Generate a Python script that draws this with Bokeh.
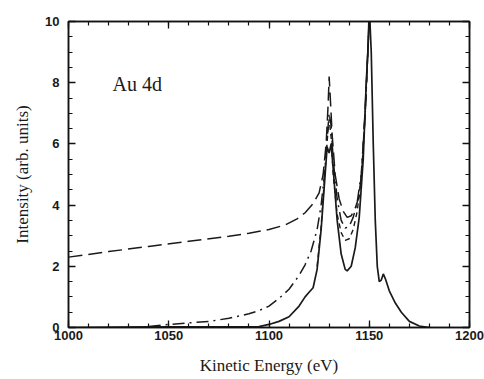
from bokeh.plotting import figure
from bokeh.models import LinearAxis, Range1d, Label, FixedTicker
from bokeh.embed import file_html
from bokeh.resources import INLINE

# Solid curve
x_solid = [1000, 1040, 1080, 1095, 1100, 1105, 1110, 1115, 1118, 1120, 1122, 1124, 1126, 1128, 1129,
           1130, 1131, 1132, 1134, 1136, 1138, 1139, 1141, 1143, 1145, 1147, 1148.5, 1149.5, 1150,
           1151, 1152, 1153, 1154, 1155, 1156, 1157, 1158, 1160, 1163, 1166, 1170, 1175, 1180]
y_solid = [0.0, 0.02, 0.02, 0.03, 0.1, 0.2, 0.35, 0.7, 1.0, 1.15, 1.3, 1.9, 3.2, 5.0, 5.9,
           5.7, 6.0, 5.2, 3.5, 2.4, 1.9, 1.85, 2.0, 2.6, 3.6, 5.5, 8.0, 9.3, 10.5,
           9.0, 6.0, 3.5, 2.0, 1.5, 1.55, 1.75, 1.6, 1.2, 0.8, 0.5, 0.2, 0.05, 0.0]

# Long-dash curve
x_dash = [1000, 1020, 1040, 1060, 1080, 1090, 1100, 1108, 1114, 1118, 1122, 1125, 1127, 1128.5,
          1129.5, 1130, 1130.5, 1131.5, 1133, 1135, 1137, 1139, 1141, 1143, 1145, 1146.5, 1148,
          1149.3, 1150]
y_dash = [2.3, 2.48, 2.65, 2.82, 2.98, 3.08, 3.2, 3.35, 3.55, 3.75, 4.05, 4.4, 5.0, 6.0,
          7.3, 8.2, 7.6, 6.3, 5.0, 4.2, 3.8, 3.6, 3.65, 3.9, 4.3, 5.3, 7.2, 9.0, 10.2]

# Dash-dot curve
x_dd = [1040, 1050, 1060, 1070, 1080, 1090, 1095, 1100, 1105, 1110, 1115, 1118, 1121, 1124, 1126,
        1128, 1129.5, 1130, 1131, 1132, 1134, 1136, 1138, 1140, 1142, 1144, 1146, 1148, 1149.3, 1150]
y_dd = [0.03, 0.1, 0.15, 0.2, 0.3, 0.45, 0.55, 0.7, 0.95, 1.25, 1.7, 2.05, 2.5, 3.2, 4.0,
        5.2, 6.6, 7.0, 6.6, 5.5, 4.2, 3.5, 3.25, 3.3, 3.6, 4.1, 5.0, 7.0, 9.0, 10.2]

# Short-dash curve
x_sd = [1124, 1126, 1128, 1129.5, 1130, 1131, 1132, 1134, 1136, 1138, 1140, 1142, 1144, 1146,
        1148, 1149.3, 1150]
y_sd = [2.0, 3.3, 5.2, 6.5, 6.8, 6.2, 5.0, 3.7, 3.1, 2.85, 2.9, 3.2, 3.8, 4.9, 7.0, 9.0, 10.2]

x_ticks = [1000, 1050, 1100, 1150, 1200]
y_ticks = [0, 2, 4, 6, 8, 10]

p = figure(width=484, height=379, output_backend="svg", toolbar_location=None,
           x_range=Range1d(1000, 1200), y_range=Range1d(0, 10),
           min_border_left=68, min_border_right=15, min_border_top=21, min_border_bottom=52,
           background_fill_color="white", border_fill_color="white")
p.grid.visible = False
p.outline_line_color = "#111111"
p.outline_line_width = 1.5

ink = "#1a1a1a"
p.line(x_solid, y_solid, line_color=ink, line_width=1.7)
p.line(x_dash, y_dash, line_color=ink, line_width=1.5, line_dash="14 6")
p.line(x_dd, y_dd, line_color=ink, line_width=1.5, line_dash="12 5 2 5")
p.line(x_sd, y_sd, line_color=ink, line_width=1.4, line_dash="5 4")

def style(ax, ticks, minor, labels=True):
    ax.ticker = FixedTicker(ticks=ticks, minor_ticks=minor)
    ax.major_tick_in = 7
    ax.major_tick_out = 0
    ax.minor_tick_in = 4
    ax.minor_tick_out = 0
    ax.major_tick_line_color = "#111111"
    ax.minor_tick_line_color = "#111111"
    ax.major_tick_line_width = 1.3
    ax.minor_tick_line_width = 1.2
    ax.axis_line_color = "#111111"
    ax.axis_line_width = 1.5
    ax.major_label_text_font = "Liberation Sans"
    ax.major_label_text_font_style = "bold"
    ax.major_label_text_font_size = "13px"
    ax.major_label_text_color = "#1a1a1a"
    if not labels:
        ax.major_label_overrides = {t: "" for t in ticks}
        ax.major_label_standoff = 0
    ax.axis_label_text_font = "Liberation Serif"
    ax.axis_label_text_font_style = "normal"
    ax.axis_label_text_font_size = "17px"
    ax.axis_label_text_color = "#1a1a1a"

x_minor = list(range(1000, 1201, 10))
y_minor = [i * 0.5 for i in range(0, 21)]

xa = p.xaxis[0]
style(xa, x_ticks, x_minor)
xa.axis_label = "Kinetic Energy (eV)"
xa.major_label_standoff = 3
xa.axis_label_standoff = 13

ya = p.yaxis[0]
style(ya, y_ticks, y_minor)
ya.axis_label = "Intensity (arb. units)"
ya.major_label_standoff = 9
ya.axis_label_standoff = 10

top = LinearAxis()
style(top, x_ticks, x_minor, labels=False)
p.add_layout(top, "above")
right = LinearAxis()
style(right, y_ticks, y_minor, labels=False)
p.add_layout(right, "right")

p.add_layout(Label(x=1022, y=7.6, text="Au 4d", text_font="Liberation Serif",
                   text_font_size="20px", text_color="#1a1a1a"))

open("out.html", "w").write(file_html(p, INLINE))
